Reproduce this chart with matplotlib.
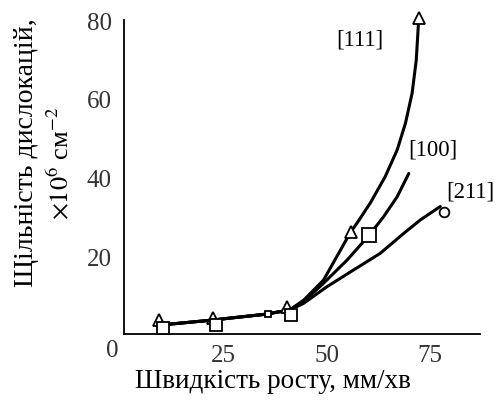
import matplotlib
matplotlib.use("Agg")
import matplotlib.pyplot as plt

plt.rcParams['font.family'] = ['Liberation Serif', 'DejaVu Serif']
plt.rcParams['mathtext.fontset'] = 'stix'

# shared low-speed part of the curves
base_x = [10, 16, 22, 28, 35, 41]
base_y = [2.8, 3.4, 4.0, 4.7, 5.5, 6.6]

# curve traces per orientation
c111_x = base_x + [44.4, 49.2, 55.8, 57.3, 60.5, 64.1, 67.0, 69.0, 70.6, 71.6, 72.2]
c111_y = base_y + [9.1, 14.2, 26.5, 28.7, 33.8, 40.5, 47.3, 54.1, 61.7, 70.1, 80.7]
c100_x = base_x + [44.4, 49.2, 54.9, 60.3, 63.7, 67.0, 69.8]
c100_y = base_y + [8.7, 13.4, 19.3, 25.7, 30.3, 35.4, 41.3]
c211_x = base_x + [44.4, 50.0, 56.5, 62.9, 68.6, 72.6, 77.4]
c211_y = base_y + [8.3, 12.5, 16.8, 21.0, 26.1, 29.5, 32.9]

# measured points (markers)
tri_x = [9.5, 22.6, 40.4, 55.8, 72.2]
tri_y = [4.0, 4.6, 7.4, 26.5, 80.7]
sq_x = [10.5, 23.3, 35.9, 41.4, 60.3]
sq_y = [2.0, 2.8, 5.6, 5.3, 25.7]
circ_x = [78.2]
circ_y = [31.6]

labels = ['[111]', '[100]', '[211]']
label_pos = [(58, 75.2), (75.5, 47.3), (84.7, 36.6)]

x_ticks = [25, 50, 75]
y_ticks = [20, 40, 60, 80]

fig = plt.figure(figsize=(4.98, 4.0), dpi=100)
ax = fig.add_axes([124/498, 1-334/400, (480-124)/498, (334-20)/400])

for cx, cy in [(c111_x, c111_y), (c100_x, c100_y), (c211_x, c211_y)]:
    ax.plot(cx, cy, color='black', lw=2.2, solid_capstyle='round',
            solid_joinstyle='round', zorder=2, clip_on=False)

ax.plot(tri_x, tri_y, linestyle='none', marker='^', ms=8, mfc='white', mec='black',
        mew=1.3, zorder=3, clip_on=False)
sizes = [8, 8, 5, 8, 10]
for x, y, s in zip(sq_x, sq_y, sizes):
    ax.plot([x], [y], linestyle='none', marker='s', ms=s, mfc='white', mec='black',
            mew=1.3, zorder=3, clip_on=False)
ax.plot(circ_x, circ_y, linestyle='none', marker='o', ms=7, mfc='white', mec='black',
        mew=1.3, zorder=3, clip_on=False)

for lab, (x, y) in zip(labels, label_pos):
    ax.text(x, y, lab, ha='center', va='center', fontsize=16.5, color='black')

ax.set_xlim(1, 87)
ax.set_ylim(0.5, 80.3)
ax.set_xticks(x_ticks)
ax.set_yticks(y_ticks)
ax.tick_params(length=0, labelsize=18, colors='#333333', pad=8)
ax.tick_params(axis='y', pad=9)
for s in ['top', 'right']:
    ax.spines[s].set_visible(False)
for s in ['left', 'bottom']:
    ax.spines[s].set_linewidth(1.3)

fig.text(112/498, 1-351/400, '0', ha='center', va='center', fontsize=18, color='#333333')

fig.text(273/498, 1-382/400, 'Швидкість росту, мм/хв', ha='center', va='center', fontsize=19.5)
fig.text(27/498, 1-153/400, 'Щільність дислокацій,', rotation=90, ha='center', va='center', fontsize=20)
fig.text(60/498, 1-163/400, r'$\times10^6$ см$^{-2}$', rotation=90, ha='center', va='center', fontsize=19)

fig.savefig('out.png', dpi=100)
